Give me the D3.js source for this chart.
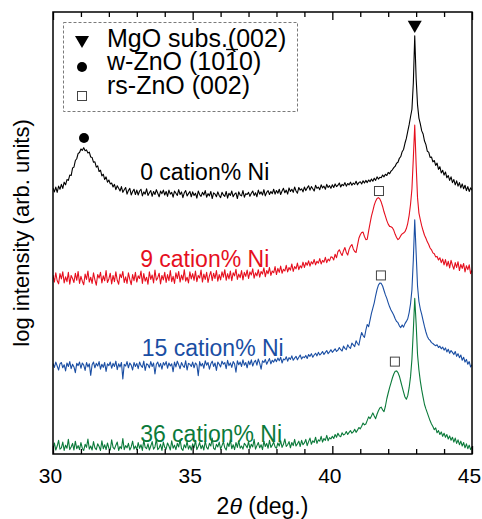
<!DOCTYPE html>
<html>
<head>
<meta charset="utf-8">
<script src="https://cdn.jsdelivr.net/npm/d3@7"></script>
<style>
  html, body { margin: 0; padding: 0; background: #fff; }
  svg { display: block; font-family: "Liberation Sans", Arial, Helvetica, sans-serif; }
</style>
</head>
<body>
<svg id="chart" width="482" height="519"></svg>
<script>
// ---------------- DATA ----------------
// 2θ grid: start and step (degrees); each series holds log-intensity (arb. units, offset) per grid point
const twoThetaStart = 30;
const twoThetaStep = 0.05;

const ni0 = [
  6.02,5.93,6.04,5.92,6.06,5.99,6.10,6.01,6.15,6.09,6.21,6.19,6.31,6.30,6.47,6.49,6.64,6.68,6.80,6.82,
  6.90,6.87,6.93,6.86,6.88,6.81,6.83,6.72,6.71,6.60,6.61,6.49,6.52,6.39,6.42,6.29,6.33,6.21,6.27,6.15,
  6.20,6.11,6.13,6.04,6.10,5.98,6.07,6.01,5.95,6.05,5.92,5.98,6.03,5.88,5.96,6.01,5.86,5.94,5.99,5.87,
  5.97,5.86,5.95,5.99,5.84,5.93,5.88,6.00,5.85,5.91,5.96,5.83,5.94,5.87,5.98,5.90,5.82,5.95,5.89,5.97,
  5.86,5.94,5.83,5.97,5.88,5.92,5.81,5.95,5.90,5.85,5.98,5.87,5.93,5.80,5.91,5.96,5.84,5.89,5.94,5.82,
  5.93,5.85,5.90,5.79,5.95,5.87,5.83,5.92,5.86,5.96,5.81,5.89,5.84,5.94,5.78,5.91,5.88,5.82,5.93,5.85,
  5.80,5.92,5.86,5.83,5.94,5.79,5.90,5.85,5.95,5.82,5.88,5.91,5.78,5.93,5.86,5.84,5.96,5.81,5.89,5.87,
  5.92,5.83,5.90,5.95,5.85,5.91,5.82,5.97,5.88,5.93,5.86,5.98,5.84,5.92,5.96,5.87,5.94,5.89,5.99,5.88,
  5.96,5.90,5.99,5.87,5.95,6.01,5.91,5.97,5.88,6.02,5.94,5.99,5.92,6.04,5.95,5.90,6.03,5.97,6.00,5.93,
  6.04,5.96,6.02,6.07,5.97,6.05,6.00,5.95,6.08,6.01,6.04,5.98,6.09,6.02,6.06,5.99,6.10,6.03,6.07,6.01,
  6.09,6.03,6.11,6.05,6.08,6.13,6.04,6.10,6.07,6.14,6.06,6.12,6.09,6.15,6.08,6.13,6.10,6.17,6.09,6.14,
  6.16,6.11,6.18,6.13,6.19,6.14,6.20,6.16,6.22,6.17,6.24,6.19,6.27,6.22,6.26,6.25,6.31,6.27,6.33,6.30,
  6.37,6.34,6.40,6.43,6.48,6.51,6.58,6.60,6.69,6.73,6.84,6.89,7.03,7.14,7.30,7.45,7.63,7.80,8.40,9.46,
  8.50,7.90,7.60,7.47,7.31,7.24,7.08,7.00,6.85,6.83,6.71,6.72,6.61,6.64,6.53,6.58,6.44,6.50,6.36,6.42,
  6.31,6.38,6.25,6.30,6.19,6.27,6.14,6.21,6.09,6.18,6.06,6.14,6.02,6.11,6.00,6.08,5.96,6.05,5.94,6.02,5.97
];

const ni9 = [
  4.05,3.89,4.10,3.92,3.85,4.08,3.96,4.12,3.87,4.01,3.90,4.11,3.84,4.04,3.97,3.88,4.09,3.93,4.13,3.86,
  4.02,3.91,3.83,4.07,3.95,4.14,3.89,4.00,3.86,4.10,3.94,3.82,4.06,3.98,4.11,3.87,4.03,3.92,4.15,3.88,
  3.96,4.09,3.85,4.04,3.90,4.12,3.93,3.84,4.07,3.99,4.13,3.88,4.01,3.86,4.10,3.95,3.83,4.06,3.92,4.11,
  3.89,4.03,3.97,4.14,3.86,4.08,3.91,4.00,3.84,4.12,3.95,4.05,3.87,4.16,3.93,3.99,4.09,3.85,4.04,3.94,
  4.11,3.88,4.06,3.92,4.15,3.90,4.02,3.86,4.10,3.97,4.13,3.89,4.05,3.94,4.17,3.91,4.00,3.87,4.12,3.96,
  4.08,3.93,4.14,3.90,4.04,3.98,4.16,3.89,4.07,3.95,4.11,3.88,4.03,4.13,3.92,4.09,3.97,4.15,3.91,4.06,
  3.94,4.12,4.00,4.17,3.93,4.08,3.96,4.14,3.92,4.10,4.03,4.18,3.95,4.07,3.99,4.15,3.94,4.11,4.02,4.16,
  3.97,4.12,4.05,4.19,3.98,4.10,4.03,4.17,4.00,4.13,4.07,4.21,4.01,4.15,4.08,4.22,4.04,4.14,4.10,4.24,
  4.06,4.20,4.11,4.25,4.09,4.18,4.14,4.27,4.12,4.22,4.16,4.30,4.13,4.24,4.19,4.32,4.17,4.26,4.21,4.34,
  4.22,4.33,4.27,4.37,4.25,4.35,4.30,4.40,4.28,4.36,4.32,4.42,4.30,4.38,4.34,4.45,4.33,4.41,4.37,4.46,
  4.45,4.39,4.52,4.44,4.58,4.62,4.55,4.49,4.60,4.67,4.56,4.50,4.63,4.70,4.74,4.64,4.58,4.56,4.72,4.88,
  4.96,5.01,5.02,4.92,4.85,4.86,5.05,5.22,5.38,5.50,5.63,5.72,5.78,5.80,5.77,5.70,5.60,5.48,5.38,5.28,
  5.20,5.15,5.14,5.12,5.06,4.97,4.90,4.85,4.88,4.94,4.98,5.00,5.03,5.10,5.22,5.40,5.65,6.00,6.70,7.44,
  6.55,5.80,5.45,5.30,5.16,5.05,4.95,4.88,4.80,4.74,4.66,4.62,4.55,4.53,4.46,4.47,4.39,4.44,4.33,4.41,
  4.28,4.40,4.25,4.36,4.21,4.38,4.27,4.18,4.33,4.22,4.35,4.15,4.29,4.20,4.31,4.12,4.26,4.17,4.28,4.08,4.16
];

const ni15 = [
  2.05,1.96,2.08,1.99,1.90,2.04,2.07,1.95,2.02,1.88,2.06,1.98,2.09,1.93,2.03,1.97,1.84,2.05,2.00,2.08,
  1.94,2.06,2.01,1.89,2.07,1.97,2.04,1.78,2.02,2.08,1.95,2.05,1.99,2.09,1.92,2.03,1.96,2.07,1.87,2.04,
  2.00,2.08,1.94,2.05,1.98,2.10,1.91,2.04,1.97,2.07,1.70,2.03,1.99,2.09,1.95,2.06,2.01,1.90,2.07,1.98,
  2.05,1.93,2.08,2.00,1.96,2.10,1.89,2.04,2.02,1.95,2.09,1.98,2.06,1.81,2.03,2.08,1.97,2.05,1.92,2.07,
  2.01,2.09,1.94,2.06,1.99,2.04,1.86,2.08,1.97,2.10,2.02,1.93,2.07,2.00,1.96,2.11,1.90,2.05,2.03,1.98,
  2.08,1.95,2.06,2.02,1.77,2.09,1.99,2.05,1.94,2.11,2.01,2.07,1.92,2.04,2.10,1.98,2.06,1.89,2.08,2.03,
  1.97,2.10,2.03,2.07,1.93,2.12,2.00,2.06,1.96,2.09,2.04,1.85,2.11,2.02,2.08,1.98,2.13,2.01,2.07,1.95,
  2.10,2.02,2.13,1.99,2.08,2.12,2.01,2.15,2.05,1.92,2.11,2.07,2.14,2.03,2.10,2.16,2.04,2.12,2.08,2.15,
  2.09,2.17,2.11,2.19,2.06,2.15,2.13,2.20,2.10,2.18,2.14,2.22,2.12,2.17,2.21,2.13,2.19,2.24,2.15,2.20,
  2.18,2.23,2.16,2.25,2.21,2.27,2.19,2.24,2.28,2.22,2.30,2.24,2.27,2.32,2.25,2.30,2.34,2.27,2.31,2.36,
  2.30,2.34,2.38,2.32,2.35,2.41,2.36,2.33,2.44,2.39,2.36,2.47,2.42,2.39,2.51,2.47,2.43,2.56,2.50,2.46,
  2.62,2.75,2.68,2.64,2.80,2.93,2.88,3.03,3.18,3.30,3.42,3.58,3.72,3.82,3.87,3.86,3.80,3.70,3.60,3.52,
  3.42,3.33,3.26,3.20,3.14,3.06,3.00,2.97,2.90,2.86,2.92,2.87,2.95,3.00,3.06,3.20,3.40,3.72,4.40,5.30,
  4.55,3.80,3.45,3.28,3.16,3.02,2.88,2.76,2.66,2.60,2.57,2.52,2.50,2.47,2.45,2.47,2.41,2.44,2.38,2.42,
  2.35,2.40,2.31,2.37,2.28,2.34,2.30,2.25,2.32,2.21,2.27,2.18,2.24,2.12,2.19,2.08,2.14,2.03,2.09,1.97,2.02
];

const ni36 = [
  0.12,0.25,0.09,0.18,0.31,0.11,0.14,0.27,0.08,0.20,0.13,0.33,0.10,0.16,0.24,0.09,0.29,0.12,0.19,0.10,
  0.26,0.13,0.08,0.22,0.15,0.34,0.11,0.18,0.09,0.28,0.14,0.10,0.23,0.17,0.08,0.30,0.12,0.21,0.10,0.25,
  0.13,0.09,0.32,0.15,0.11,0.20,0.27,0.08,0.17,0.12,0.35,0.10,0.19,0.14,0.24,0.09,0.16,0.29,0.11,0.18,
  0.10,0.26,0.13,0.21,0.08,0.31,0.15,0.12,0.23,0.09,0.18,0.28,0.11,0.16,0.34,0.10,0.14,0.22,0.08,0.27,
  0.15,0.11,0.25,0.18,0.09,0.30,0.13,0.20,0.10,0.24,0.16,0.33,0.12,0.08,0.21,0.14,0.28,0.11,0.19,0.09,
  0.23,0.14,0.31,0.10,0.17,0.26,0.12,0.20,0.09,0.29,0.15,0.11,0.24,0.18,0.36,0.13,0.10,0.22,0.16,0.27,
  0.11,0.19,0.28,0.14,0.09,0.25,0.17,0.32,0.12,0.21,0.10,0.26,0.15,0.30,0.13,0.18,0.11,0.24,0.20,0.14,
  0.28,0.12,0.22,0.16,0.33,0.11,0.19,0.26,0.14,0.21,0.10,0.29,0.17,0.24,0.13,0.31,0.15,0.20,0.27,0.16,
  0.13,0.25,0.18,0.30,0.15,0.22,0.34,0.17,0.21,0.28,0.14,0.26,0.19,0.33,0.18,0.23,0.29,0.17,0.31,0.21,
  0.25,0.33,0.19,0.28,0.36,0.22,0.30,0.26,0.38,0.24,0.32,0.29,0.40,0.27,0.35,0.31,0.42,0.30,0.37,0.34,
  0.40,0.35,0.44,0.38,0.47,0.41,0.39,0.48,0.43,0.45,0.51,0.44,0.49,0.53,0.47,0.50,0.56,0.49,0.54,0.60,
  0.57,0.63,0.70,0.66,0.68,0.76,0.84,0.80,0.86,0.93,0.86,0.80,0.90,0.98,1.04,1.06,1.00,0.96,1.08,1.25,
  1.38,1.50,1.61,1.72,1.81,1.87,1.88,1.84,1.76,1.64,1.52,1.40,1.29,1.24,1.32,1.50,1.75,2.15,2.80,3.52,
  2.95,2.25,1.90,1.65,1.45,1.28,1.12,1.02,0.93,0.84,0.75,0.68,0.62,0.55,0.59,0.48,0.53,0.44,0.50,0.40,
  0.47,0.38,0.44,0.34,0.41,0.31,0.38,0.27,0.36,0.24,0.32,0.21,0.29,0.18,0.26,0.14,0.23,0.12,0.20,0.10,0.16
];

const seriesLabels = ["0 cation% Ni", "9 cation% Ni", "15 cation% Ni", "36 cation% Ni"];
const seriesColors = ["#000000", "#e60f1e", "#1a4ea3", "#0b7a3a"];
const seriesValues = [ni0, ni9, ni15, ni36];
// label anchor points (2θ, arb. units) for the series names
const labelTheta = [33.12, 33.12, 33.18, 33.12];
const labelLevel = [6.20, 4.23, 2.22, 0.27];

// peak markers (2θ, arb. units)
const mgoMarks = [[42.95, 9.71]];
const wznoMarks = [[31.11, 7.15]];
const rsznoMarks = [[41.67, 5.95], [41.74, 4.04], [42.24, 2.09]];

const xMajorTicks = [30, 35, 40, 45];
const xMinorTicks = [31, 32, 33, 34, 36, 37, 38, 39, 41, 42, 43, 44];

// ---------------- CHART ----------------
const svg = d3.select("#chart");
const L = 53, R = 472, T = 12, B = 454;
const x = d3.scaleLinear().domain([30, 45]).range([L, R]);
const y = d3.scaleLinear().domain([0, 10]).range([B, T]);

svg.append("clipPath").attr("id", "clip")
  .append("rect").attr("x", L).attr("y", T).attr("width", R - L).attr("height", B - T);

const line = d3.line()
  .x((d, i) => x(twoThetaStart + i * twoThetaStep))
  .y(d => y(d));

const g = svg.append("g").attr("clip-path", "url(#clip)");
seriesValues.forEach((vals, k) => {
  g.append("path")
    .attr("d", line(vals))
    .attr("fill", "none")
    .attr("stroke", seriesColors[k])
    .attr("stroke-width", 1.1)
    .attr("stroke-linejoin", "round");
});

// series labels
seriesLabels.forEach((t, k) => {
  svg.append("text")
    .attr("x", x(labelTheta[k]))
    .attr("y", y(labelLevel[k]))
    .attr("fill", seriesColors[k])
    .attr("font-size", 23)
    .text(t);
});

// markers
const triSym = d3.symbol().type(d3.symbolTriangle).size(85);
svg.selectAll(".mgo").data(mgoMarks).enter().append("path")
  .attr("d", triSym)
  .attr("transform", d => `translate(${x(d[0])},${y(d[1])}) rotate(180)`)
  .attr("fill", "#000");
svg.selectAll(".wzno").data(wznoMarks).enter().append("circle")
  .attr("cx", d => x(d[0])).attr("cy", d => y(d[1])).attr("r", 5).attr("fill", "#000");
svg.selectAll(".rszno").data(rsznoMarks).enter().append("rect")
  .attr("x", d => x(d[0]) - 4.5).attr("y", d => y(d[1]) - 4.5)
  .attr("width", 9).attr("height", 9)
  .attr("fill", "#fff").attr("stroke", "#444").attr("stroke-width", 1);

// axes
function styleAxis(sel) {
  sel.select(".domain").remove();
  sel.selectAll("line").attr("stroke", "#000").attr("stroke-width", 1.3);
}
svg.append("g").attr("transform", `translate(0,${B})`)
  .call(d3.axisBottom(x).tickValues(xMajorTicks).tickSize(-8).tickPadding(14).tickFormat(d3.format("d")))
  .call(styleAxis)
  .call(s => s.selectAll("text").attr("font-size", 21).attr("fill", "#000").attr("dx", "-3")
        .attr("font-family", '"Liberation Sans", Arial, sans-serif'));
svg.append("g").attr("transform", `translate(0,${B})`)
  .call(d3.axisBottom(x).tickValues(xMinorTicks).tickSize(-5).tickFormat(""))
  .call(styleAxis);
svg.append("g").attr("transform", `translate(0,${T})`)
  .call(d3.axisTop(x).tickValues(xMajorTicks).tickSize(-8).tickFormat(""))
  .call(styleAxis);
svg.append("g").attr("transform", `translate(0,${T})`)
  .call(d3.axisTop(x).tickValues(xMinorTicks).tickSize(-5).tickFormat(""))
  .call(styleAxis);

// frame
svg.append("rect").attr("x", L).attr("y", T).attr("width", R - L).attr("height", B - T)
  .attr("fill", "none").attr("stroke", "#000").attr("stroke-width", 1.5);

// axis titles
const xt = svg.append("text").attr("x", (L + R) / 2).attr("y", 514)
  .attr("text-anchor", "middle").attr("font-size", 23).attr("fill", "#000");
xt.append("tspan").text("2");
xt.append("tspan").attr("font-style", "italic").text("θ");
xt.append("tspan").text(" (deg.)");

svg.append("text")
  .attr("transform", `translate(29,${(T + B) / 2}) rotate(-90)`)
  .attr("text-anchor", "middle").attr("font-size", 22).attr("fill", "#000")
  .text("log intensity (arb. units)");

// legend
const lg = svg.append("g");
lg.append("rect").attr("x", 63.5).attr("y", 22.5).attr("width", 234).attr("height", 89)
  .attr("fill", "#fff").attr("stroke", "#7a7a7a").attr("stroke-width", 1)
  .attr("stroke-dasharray", "3,2");
lg.append("path").attr("d", triSym).attr("transform", "translate(82,40) rotate(180)").attr("fill", "#000");
lg.append("circle").attr("cx", 82).attr("cy", 67).attr("r", 5).attr("fill", "#000");
lg.append("rect").attr("x", 77.5).attr("y", 91.5).attr("width", 9).attr("height", 9)
  .attr("fill", "#fff").attr("stroke", "#444").attr("stroke-width", 1);
const legendTexts = ["MgO subs.(002)", "w-ZnO (1010)", "rs-ZnO (002)"];
const legendY = [47, 70, 94];
legendTexts.forEach((t, i) => {
  const tx = lg.append("text").attr("x", 107).attr("y", legendY[i])
    .attr("font-size", 25).attr("fill", "#000").text(t);
  if (i === 1) {
    const n = tx.node();
    const s = n.getStartPositionOfChar(9), e = n.getEndPositionOfChar(9);
    lg.append("line").attr("x1", s.x + 1).attr("x2", e.x - 1)
      .attr("y1", legendY[i] - 20.5).attr("y2", legendY[i] - 20.5)
      .attr("stroke", "#000").attr("stroke-width", 1.3);
  }
});
</script>
</body>
</html>
